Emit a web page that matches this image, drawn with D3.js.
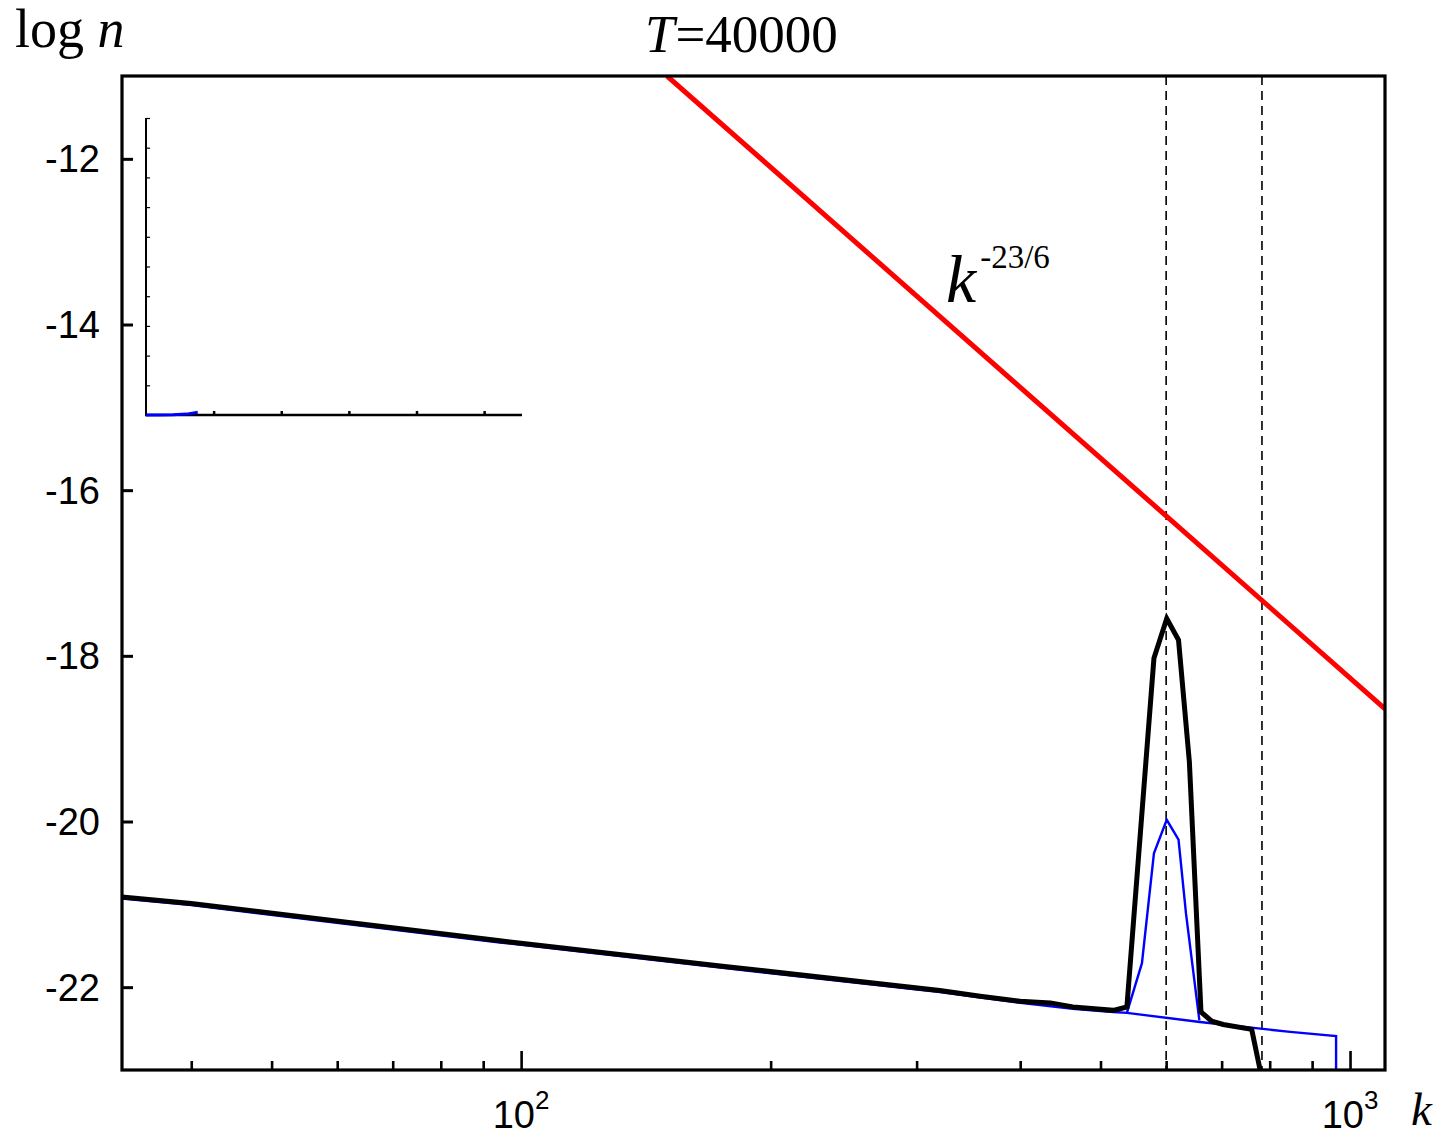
<!DOCTYPE html>
<html>
<head>
<meta charset="utf-8">
<script src="https://cdn.jsdelivr.net/npm/d3@7"></script>
<style>
  html, body { margin: 0; padding: 0; background: #fff; }
  svg { display: block; }
</style>
</head>
<body>
<svg id="chart" width="1449" height="1137"></svg>
<script>
// ---------------- data ----------------
const title = "40000";
const xDomain = [33, 1102];          // k (log axis)
const yDomain = [-23, -11];          // log n
const yTicks = [-22, -20, -18, -16, -14, -12];
const xMajorTicks = [100, 1000];
const xMajorExp = ["2", "3"];
const xMinorTicks = [40, 50, 60, 70, 80, 90, 200, 300, 400, 500, 600, 700, 800, 900];

// black spectrum
const blackK    = [33, 40, 94.3, 176, 320, 358, 400, 435, 463, 518, 538, 580, 601, 621, 640, 661, 681, 703, 761, 779, 785];
const blackLogN = [-20.91, -20.99, -21.44, -21.75, -22.04, -22.11, -22.17, -22.19, -22.24, -22.28, -22.24, -18.03, -17.55, -17.81, -19.28, -22.30, -22.41, -22.45, -22.51, -23.0, -23.18];

// blue spectrum: smooth part and peak
const blueBaseK    = [33, 40, 94.3, 176, 320, 400, 463, 518, 538, 659, 847, 962, 962];
const blueBaseLogN = [-20.93, -21.01, -21.46, -21.77, -22.06, -22.19, -22.26, -22.30, -22.31, -22.42, -22.54, -22.59, -23.4];
const bluePeakK    = [538, 561, 580, 601, 621, 634, 658];
const bluePeakLogN = [-22.31, -21.71, -20.385, -19.98, -20.22, -21.11, -22.40];

// reference power law k^(-23/6), endpoints
const redK    = [150, 1102];
const redLogN = [-11.0, -18.64];

// dashed vertical markers
const dashK = [600, 783];

// inset (linear k vs n)
const insetXDomain = [0, 1112];
const insetYDomain = [0, 10];
const insetXTicks = [200, 400, 600, 800, 1000];
const insetYTicks = [0, 1, 2, 3, 4, 5, 6, 7, 8, 9, 10];
const insetK = [0, 40, 80, 120, 153];
const insetN = [0, 0.002, 0.01, 0.03, 0.09];

// ---------------- layout ----------------
const L = 122, R = 1385, T = 76, B = 1070;
const svg = d3.select("#chart");
const serif = "'Liberation Serif', 'Times New Roman', serif";
const sans = "'Liberation Sans', Arial, sans-serif";

const x = d3.scaleLog().domain(xDomain).range([L, R]);
const y = d3.scaleLinear().domain(yDomain).range([B, T]);

svg.append("defs").append("clipPath").attr("id", "clip")
  .append("rect").attr("x", L).attr("y", T).attr("width", R - L).attr("height", B - T);

const line = d3.line().x(d => x(d[0])).y(d => y(d[1]));
const zip = (a, b) => a.map((v, i) => [v, b[i]]);

const plot = svg.append("g").attr("clip-path", "url(#clip)");

// dashed lines
plot.selectAll("line.dash").data(dashK).join("line")
  .attr("class", "dash")
  .attr("x1", d => x(d)).attr("x2", d => x(d))
  .attr("y1", T).attr("y2", B)
  .attr("stroke", "#000").attr("stroke-width", 1.6)
  .attr("stroke-dasharray", "9,6");

// red power law
plot.append("path").datum(zip(redK, redLogN))
  .attr("d", line).attr("fill", "none")
  .attr("stroke", "#ff0000").attr("stroke-width", 5);

// blue
plot.append("path").datum(zip(blueBaseK, blueBaseLogN))
  .attr("d", line).attr("fill", "none")
  .attr("stroke", "#0000ff").attr("stroke-width", 2.4).attr("stroke-linejoin", "miter");
plot.append("path").datum(zip(bluePeakK, bluePeakLogN))
  .attr("d", line).attr("fill", "none")
  .attr("stroke", "#0000ff").attr("stroke-width", 2.4);

// black
plot.append("path").datum(zip(blackK, blackLogN))
  .attr("d", line).attr("fill", "none")
  .attr("stroke", "#000").attr("stroke-width", 5).attr("stroke-linejoin", "miter");

// ---------------- inset ----------------
const iL = 146, iR = 522, iT = 118, iB = 415;
const ix = d3.scaleLinear().domain(insetXDomain).range([iL, iR]);
const iy = d3.scaleLinear().domain(insetYDomain).range([iB, iT]);

const iyAxis = svg.append("g").attr("transform", `translate(${iL},0)`)
  .call(d3.axisLeft(iy).tickValues(insetYTicks).tickSize(-4).tickFormat(""));
iyAxis.select(".domain").remove();
iyAxis.selectAll(".tick line").attr("stroke", "#000").attr("stroke-width", 1.2);

const ixAxis = svg.append("g").attr("transform", `translate(0,${iB})`)
  .call(d3.axisBottom(ix).tickValues(insetXTicks).tickSize(-4).tickFormat(""));
ixAxis.select(".domain").remove();
ixAxis.selectAll(".tick line").attr("stroke", "#000").attr("stroke-width", 2.5);

svg.append("line").attr("x1", iL).attr("x2", iL).attr("y1", iT).attr("y2", iB)
  .attr("stroke", "#000").attr("stroke-width", 2);
svg.append("line").attr("x1", iL - 1).attr("x2", iR).attr("y1", iB).attr("y2", iB)
  .attr("stroke", "#000").attr("stroke-width", 2.5);

svg.append("path").datum(zip(insetK, insetN))
  .attr("d", d3.line().x(d => ix(d[0])).y(d => iy(d[1])))
  .attr("fill", "none").attr("stroke", "#0000ff").attr("stroke-width", 3);

// ---------------- axes ----------------
const yAxis = svg.append("g").attr("transform", `translate(${L},0)`)
  .call(d3.axisLeft(y).tickValues(yTicks).tickSize(-11).tickPadding(22).tickFormat(d => String(d)));
yAxis.select(".domain").remove();
yAxis.selectAll(".tick line").attr("stroke", "#000").attr("stroke-width", 3);
yAxis.selectAll(".tick text").attr("font-family", sans).attr("font-size", 38).attr("fill", "#000")
  .attr("dy", "0.34em");

const xMinor = svg.append("g").attr("transform", `translate(0,${B})`)
  .call(d3.axisBottom(x).tickValues(xMinorTicks).tickSize(-9).tickFormat(""));
xMinor.select(".domain").remove();
xMinor.selectAll(".tick line").attr("stroke", "#000").attr("stroke-width", 2.6);

const xMajor = svg.append("g").attr("transform", `translate(0,${B})`)
  .call(d3.axisBottom(x).tickValues(xMajorTicks).tickSize(-19).tickFormat(""));
xMajor.select(".domain").remove();
xMajor.selectAll(".tick line").attr("stroke", "#000").attr("stroke-width", 2.6);

xMajorTicks.forEach((v, i) => {
  const t = svg.append("text")
    .attr("x", x(v)).attr("y", 1128)
    .attr("text-anchor", "middle")
    .attr("font-family", sans).attr("fill", "#000");
  t.append("tspan").attr("font-size", 38).text("10");
  t.append("tspan").attr("font-size", 26).attr("dy", -19).text(xMajorExp[i]);
});

// frame
svg.append("rect").attr("x", L).attr("y", T).attr("width", R - L).attr("height", B - T)
  .attr("fill", "none").attr("stroke", "#000").attr("stroke-width", 3.2);

// ---------------- texts ----------------
const ylab = svg.append("text").attr("x", 15).attr("y", 47)
  .attr("font-family", serif).attr("font-size", 54).attr("fill", "#000");
ylab.append("tspan").text("log ");
ylab.append("tspan").attr("font-style", "italic").text("n");

const ttl = svg.append("text").attr("x", 645).attr("y", 52)
  .attr("font-family", serif).attr("font-size", 53).attr("fill", "#000");
ttl.append("tspan").attr("font-style", "italic").text("T");
ttl.append("tspan").attr("dx", 1).text("=" + title);

svg.append("text").attr("x", 1411).attr("y", 1125)
  .attr("font-family", serif).attr("font-style", "italic")
  .attr("font-size", 47).attr("fill", "#000").text("k");

const pl = svg.append("text").attr("x", 946).attr("y", 302)
  .attr("font-family", serif).attr("fill", "#000");
pl.append("tspan").attr("font-style", "italic").attr("font-size", 68).text("k");
pl.append("tspan").attr("font-size", 33).attr("dx", 4).attr("dy", -34).text("-23/6");
</script>
</body>
</html>
